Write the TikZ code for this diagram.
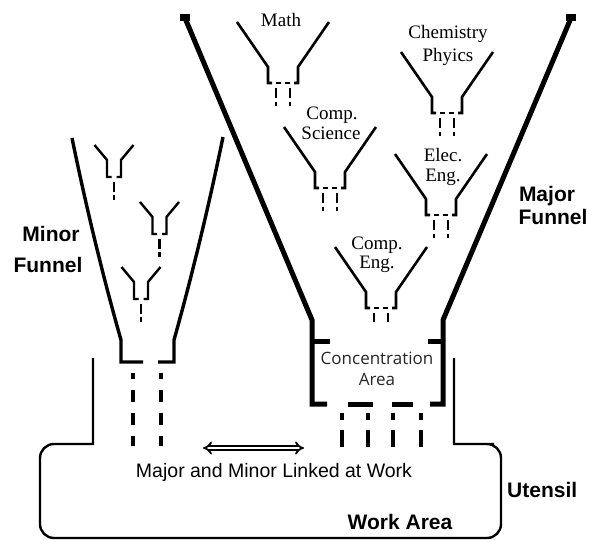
\documentclass[tikz,border=0pt]{standalone}
\usepackage{fontspec}
\usepackage{tikz}
\usetikzlibrary{arrows.meta}
\newfontfamily\labelfont{Liberation Sans}
\newfontfamily\subjfont{Liberation Serif}
\newfontfamily\areafont{Open Sans}
\tikzset{
    bigwall/.style={line width=5pt},
    minorwall/.style={line width=3.4pt},
    cupline/.style={line width=2.6pt},
    cupdrop/.style={line width=2.8pt,dash pattern=on 10pt off 4pt on 4pt off 20pt},
    minicup/.style={line width=2.4pt},
    minidrop/.style={line width=2.4pt,dash pattern=on 10pt off 3pt on 5pt off 20pt},
    minordrop/.style={line width=3.5pt,dash pattern=on 12pt off 11pt,dash phase=6pt},
    concdrop/.style={line width=3.5pt,dash pattern=on 7pt off 10pt on 17pt off 20pt},
    utensil/.style={line width=2.4pt},
    linkarrow/.style={double,double distance=2.4pt,line width=1.8pt,{Implies}-{Implies}},
    subject/.style={font=\subjfont\fontsize{19}{19}\selectfont,inner sep=0pt,anchor=base},
    bigtext/.style={font=\labelfont\bfseries\fontsize{21}{21}\selectfont,inner sep=0pt,anchor=base},
    areatext/.style={font=\areafont\fontsize{17}{17}\selectfont,text=black!85,inner sep=0pt,anchor=base},
    pics/cup/.style={code={
        \draw[cupline] (-46,0) -- (-15,45) -- (-15,61) -- (-11,61); % left arm
        \draw[cupline] (46,0) -- (15,45) -- (15,61) -- (11,61); % right arm
        \draw[cupline] (-7,61) -- (-2,61) (2,61) -- (7,61); % dashed neck
        \draw[cupdrop] (-7,66) -- (-7,#1) (7,66) -- (7,#1); % drops
    }},
    pics/minicup/.style={code={
        \draw[minicup] (-19.5,0) -- (-7,15) -- (-7,32) -- (-2.5,32); % left arm
        \draw[minicup] (19.5,0) -- (7,15) -- (7,32) -- (2.5,32); % right arm
        \draw[minidrop] (0,37) -- (0,55); % drop
    }}
}
\begin{document}
\begin{tikzpicture}[x=1pt,y=-1pt]
\useasboundingbox (0,0) rectangle (594,540);

%%% MAJOR FUNNEL %%%
\coordinate (LT) at (185,18); % left top
\coordinate (LB) at (312,320); % left bend
\coordinate (LC) at (312,404); % left corner
\coordinate (RT) at (571,18); % right top
\coordinate (RB) at (443,320); % right bend
\coordinate (RC) at (443,404); % right corner
\draw[bigwall] (LT) -- (LB) -- (LC) -- (327,404); % left side
\draw[bigwall] (RT) -- (RB) -- (RC) -- (430,404); % right side
\draw[bigwall] (312,341) -- (330,341); % left stub
\draw[bigwall] (443,341) -- (428,341); % right stub
\draw[bigwall] (348,404) -- (373,404) (392,404) -- (413,404); % bottom dashes
\fill (180,14) rectangle (190,21); % left cap
\fill (566,14) rectangle (576,21); % right cap
\foreach \x in {342,368,393,421}
    \draw[concdrop] (\x,413) -- (\x,447);

%%% SUBJECT CUPS %%%
\pic at (283,22) {cup=84}; % math
\pic at (447,52) {cup=84}; % chemistry
\pic at (330,127) {cup=84}; % comp science
\pic at (441,154) {cup=84}; % elec eng
\pic at (381,247) {cup=75}; % comp eng

\node[subject] (math) at (281,27) {Math};
\node[subject] (chem) at (448,39) {Chemistry};
\node[subject] (phys) at (448,62) {Phyics};
\node[subject] (cs1) at (332,120) {Comp.};
\node[subject] (cs2) at (331,140) {Science};
\node[subject] (ee1) at (443,162) {Elec.};
\node[subject] (ee2) at (443,182) {Eng.};
\node[subject] (ce1) at (377,249) {Comp.};
\node[subject] (ce2) at (377,268) {Eng.};
\node[areatext] (conc1) at (377,364) {Concentration};
\node[areatext] (conc2) at (377,385) {Area};

%%% MINOR FUNNEL %%%
\draw[minorwall] (72,138) .. controls (86,206) and (102,273) .. (121,340) -- (121,362) -- (143,362); % left side
\draw[minorwall] (223,137) .. controls (209,205) and (193,272) .. (174,340) -- (174,362) -- (158,362); % right side
\pic at (114,145) {minicup};
\pic at (159.5,202) {minicup};
\pic at (141,267) {minicup};
\draw[minordrop] (133,373) -- (133,446);
\draw[minordrop] (161,373) -- (161,446);

%%% UTENSIL %%%
\draw[utensil] (93,358) -- (93,444) -- (62,444) [rounded corners=14pt] -- (40,444) -- (40,538) -- (501,538) -- (501,444) -- (480,444) [sharp corners] -- (454,444) -- (454,358);
\coordinate (LA) at (203,448); % arrow left
\coordinate (RA) at (304,448); % arrow right
\draw[linkarrow] (LA) -- (RA);

%%% LABELS %%%
\node[bigtext] (minor1) at (51,241) {Minor};
\node[bigtext] (minor2) at (48,272) {Funnel};
\node[bigtext] (major1) at (547,201) {Major};
\node[bigtext] (major2) at (553,224) {Funnel};
\node[bigtext,anchor=base west] (utensil) at (507,497) {Utensil};
\node[bigtext] (work) at (400,529) {Work Area};
\node[font=\labelfont\fontsize{19.5}{19.5}\selectfont,inner sep=0pt,anchor=base] (linked) at (274,477) {Major and Minor Linked at Work};
\end{tikzpicture}
\end{document}
